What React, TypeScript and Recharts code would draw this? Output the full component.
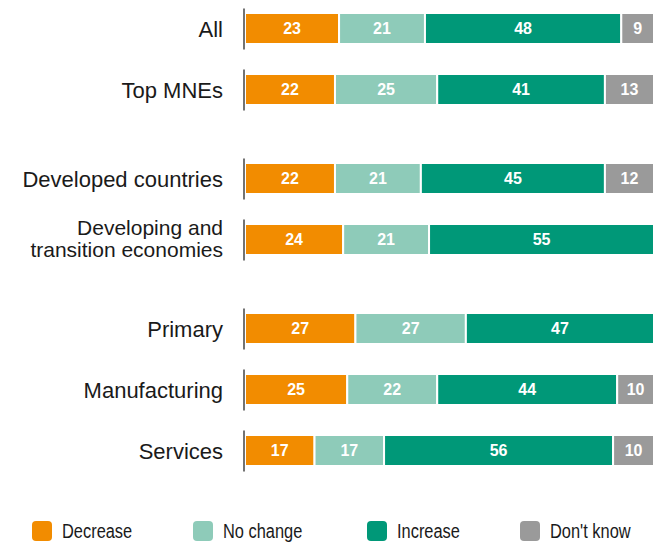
import * as React from "react";
import {Bar, BarChart, LabelList, XAxis, YAxis} from "recharts";

const CATEGORIES = [
    "All",
    "Top MNEs",
    "Developed countries",
    "Developing and\ntransition economies",
    "Primary",
    "Manufacturing",
    "Services",
];
// how many rows go in each block of bars (blocks are separated by an empty gap)
const GROUP_SIZES = [2, 2, 3];

const DECREASE = [23, 22, 22, 24, 27, 25, 17];
const NO_CHANGE = [21, 25, 21, 21, 27, 22, 17];
const INCREASE = [48, 41, 45, 55, 47, 44, 56];
const DONT_KNOW = [9, 13, 12, null, null, 10, 10];

const SERIES = [
    {key: "decrease", name: "Decrease", color: "#F28C00"},
    {key: "noChange", name: "No change", color: "#8ECBB9"},
    {key: "increase", name: "Increase", color: "#009878"},
    {key: "dontKnow", name: "Don't know", color: "#9A9A9A"},
];

const rows = CATEGORIES.map((name, i) => ({
    name,
    decrease: DECREASE[i],
    noChange: NO_CHANGE[i],
    increase: INCREASE[i],
    dontKnow: DONT_KNOW[i],
}));

const groups: any[][] = [];
let start = 0;
GROUP_SIZES.forEach(n => {
    groups.push(rows.slice(start, start + n));
    start += n;
});

const ROW_H = 61;
const LABEL_FONT = "'Liberation Sans', Arial, sans-serif";

class RowTick extends React.PureComponent<any> {
    render() {
        const {x, y, payload} = this.props;
        const lines = String(payload.value).split("\n");
        const multi = lines.length > 1;
        const first = multi ? -5 : 8;
        return (
            <g>
                <line x1={x - 1} x2={x - 1} y1={y - 20} y2={y + 21} stroke="#444" strokeWidth={1.5}/>
                <text x={x - 22} y={y} textAnchor="end" fill="#1a1a1a" fontSize={multi ? 21 : 22}
                      fontFamily={LABEL_FONT}>
                    {lines.map((l, i) => (
                        <tspan key={i} x={x - 22} y={y + first + i * 22}>{l}</tspan>
                    ))}
                </text>
            </g>
        );
    }
}

function Block({data}: { data: any[] }) {
    return (
        <BarChart width={655} height={data.length * ROW_H} data={data} layout="vertical"
                  margin={{top: 0, right: 1, bottom: 0, left: 0}}>
            <XAxis type="number" hide domain={[0, 100]} allowDataOverflow/>
            <YAxis type="category" dataKey="name" width={245} axisLine={false} tickLine={false}
                   tickSize={0} tickMargin={0} interval={0} tick={<RowTick/>}/>
            {SERIES.map(s => (
                <Bar key={s.key} dataKey={s.key} name={s.name} stackId="a" fill={s.color}
                     stroke="#fff" strokeWidth={2} barSize={31} isAnimationActive={false}>
                    <LabelList dataKey={s.key} position="center" fill="#fff" fontSize={16}
                               fontWeight="bold" fontFamily={LABEL_FONT}/>
                </Bar>
            ))}
        </BarChart>
    );
}

const LEGEND_W = [161, 174, 153, 120];

export default function App() {
    return (
        <div style={{position: "absolute", left: 0, top: 0, width: 655, height: 542, background: "#fff"}}>
            <div style={{position: "absolute", left: 0, top: -2}}>
                {groups.map((g, i) => (
                    <div key={i} style={{marginTop: i === 0 ? 0 : 28}}>
                        <Block data={g}/>
                    </div>
                ))}
            </div>
            <div style={{position: "absolute", left: 32, top: 521, height: 20, display: "flex", alignItems: "center"}}>
                {SERIES.map((s, i) => (
                    <div key={s.key} style={{width: LEGEND_W[i], display: "flex", alignItems: "center", height: 20}}>
                        <span style={{
                            width: 20, height: 20, borderRadius: 4, background: s.color,
                            display: "inline-block", marginRight: 10, flex: "none"
                        }}/>
                        <span style={{
                            fontFamily: LABEL_FONT, fontSize: 20, lineHeight: "20px", color: "#1a1a1a",
                            whiteSpace: "nowrap", display: "inline-block",
                            transform: "scaleX(0.82)", transformOrigin: "left center"
                        }}>
                            {s.name}
                        </span>
                    </div>
                ))}
            </div>
        </div>
    );
}
